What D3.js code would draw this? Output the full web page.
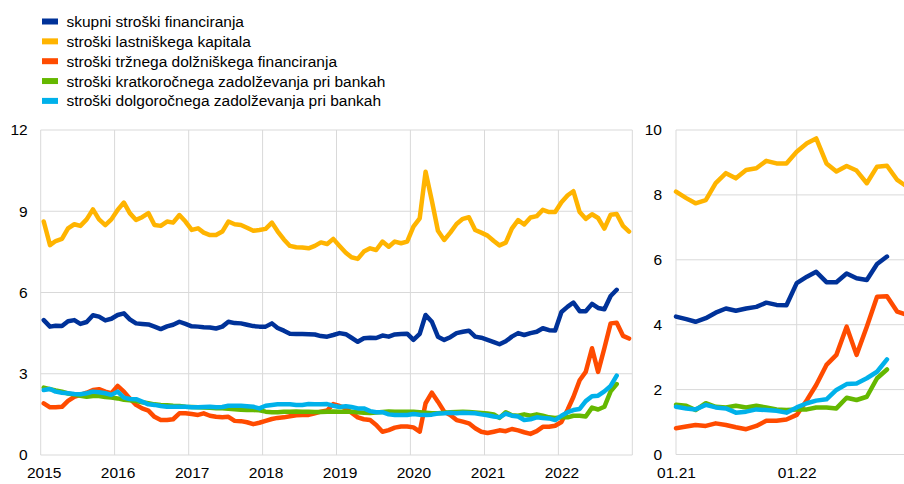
<!DOCTYPE html>
<html>
<head>
<meta charset="utf-8">
<script src="https://cdn.jsdelivr.net/npm/d3@7"></script>
<style>
body { margin: 0; background: #fff; }
svg text { font-family: "Liberation Sans", Arial, sans-serif; }
</style>
</head>
<body>
<svg id="chart" width="904" height="484"></svg>
<script>
// legend labels and colours
var names = ["skupni stroški financiranja", "stroški lastniškega kapitala", "stroški tržnega dolžniškega financiranja",
             "stroški kratkoročnega zadolževanja pri bankah", "stroški dolgoročnega zadolževanja pri bankah"];
var colors = ["#003299", "#ffb400", "#ff4b00", "#65b800", "#00b1ea"];

// monthly values, Jan 2015 onwards
var skupni = [4.98, 4.74, 4.77, 4.76, 4.94, 4.98, 4.84, 4.91, 5.16, 5.11, 4.97, 5.03,
  5.17, 5.23, 5.01, 4.86, 4.84, 4.82, 4.74, 4.65, 4.75, 4.81, 4.92, 4.84,
  4.75, 4.74, 4.72, 4.71, 4.67, 4.74, 4.92, 4.87, 4.86, 4.81, 4.76, 4.74,
  4.74, 4.86, 4.69, 4.59, 4.48, 4.47, 4.47, 4.46, 4.45, 4.39, 4.37, 4.43,
  4.5, 4.46, 4.33, 4.18, 4.31, 4.33, 4.32, 4.41, 4.37, 4.45, 4.47, 4.48,
  4.25, 4.47, 5.17, 4.92, 4.37, 4.25, 4.35, 4.5, 4.55, 4.59, 4.37, 4.33,
  4.25, 4.17, 4.09, 4.2, 4.37, 4.5, 4.43, 4.5, 4.55, 4.68, 4.61, 4.6,
  5.28, 5.48, 5.63, 5.31, 5.31, 5.58, 5.43, 5.38, 5.87, 6.1];
var lastniski = [8.62, 7.75, 7.9, 7.98, 8.37, 8.52, 8.46, 8.7, 9.07, 8.7, 8.49, 8.7,
  9.05, 9.32, 8.93, 8.68, 8.78, 8.93, 8.49, 8.46, 8.62, 8.58, 8.86, 8.62,
  8.31, 8.37, 8.21, 8.12, 8.12, 8.25, 8.62, 8.52, 8.49, 8.39, 8.28, 8.31,
  8.35, 8.58, 8.26, 7.96, 7.72, 7.67, 7.66, 7.63, 7.72, 7.85, 7.79, 7.98,
  7.72, 7.47, 7.3, 7.24, 7.51, 7.63, 7.57, 7.88, 7.69, 7.88, 7.82, 7.88,
  8.43, 8.74, 10.46, 9.39, 8.28, 7.94, 8.21, 8.53, 8.72, 8.78, 8.31, 8.21,
  8.1, 7.9, 7.74, 7.84, 8.36, 8.67, 8.51, 8.77, 8.82, 9.05, 8.97, 8.97,
  9.33, 9.59, 9.74, 8.97, 8.72, 8.89, 8.75, 8.36, 8.87, 8.9, 8.46, 8.25];
var trzni = [1.91, 1.76, 1.76, 1.78, 2.0, 2.15, 2.22, 2.3, 2.4, 2.43, 2.34, 2.28,
  2.55, 2.34, 2.09, 1.85, 1.72, 1.64, 1.41, 1.29, 1.29, 1.32, 1.54, 1.54,
  1.51, 1.48, 1.54, 1.45, 1.41, 1.39, 1.41, 1.26, 1.25, 1.21, 1.14, 1.19,
  1.26, 1.33, 1.37, 1.39, 1.43, 1.47, 1.48, 1.48, 1.54, 1.6, 1.64, 1.88,
  1.81, 1.72, 1.56, 1.39, 1.32, 1.29, 1.11, 0.86, 0.92, 1.01, 1.05, 1.05,
  1.02, 0.86, 1.91, 2.3, 1.97, 1.6, 1.48, 1.29, 1.23, 1.17, 0.99, 0.86,
  0.81, 0.86, 0.91, 0.88, 0.96, 0.91, 0.84, 0.78, 0.88, 1.04, 1.04, 1.08,
  1.22, 1.68, 2.14, 2.76, 3.07, 3.94, 3.07, 3.94, 4.86, 4.88, 4.4, 4.3];
var kratkorocni = [2.49, 2.43, 2.38, 2.34, 2.27, 2.23, 2.19, 2.15, 2.18, 2.18, 2.14, 2.12,
  2.09, 2.04, 2.02, 1.99, 1.95, 1.91, 1.87, 1.85, 1.84, 1.82, 1.81, 1.78,
  1.77, 1.76, 1.75, 1.74, 1.73, 1.73, 1.71, 1.69, 1.67, 1.66, 1.66, 1.65,
  1.6, 1.58, 1.58, 1.6, 1.6, 1.61, 1.6, 1.6, 1.59, 1.59, 1.6, 1.61,
  1.6, 1.6, 1.6, 1.58, 1.56, 1.55, 1.57, 1.59, 1.61, 1.6, 1.6, 1.6,
  1.6, 1.58, 1.56, 1.54, 1.54, 1.56, 1.58, 1.59, 1.6, 1.59, 1.57, 1.55,
  1.53, 1.5, 1.37, 1.58, 1.47, 1.45, 1.5, 1.45, 1.5, 1.45, 1.39, 1.37,
  1.39, 1.39, 1.45, 1.45, 1.42, 1.75, 1.68, 1.78, 2.35, 2.62];
var dolgorocni = [2.4, 2.44, 2.34, 2.3, 2.28, 2.25, 2.24, 2.28, 2.34, 2.32, 2.28, 2.22,
  2.34, 2.12, 2.07, 2.06, 1.97, 1.87, 1.85, 1.81, 1.78, 1.78, 1.78, 1.78,
  1.76, 1.76, 1.77, 1.78, 1.76, 1.77, 1.82, 1.82, 1.82, 1.8, 1.78, 1.72,
  1.82, 1.85, 1.87, 1.87, 1.87, 1.85, 1.85, 1.88, 1.87, 1.87, 1.88, 1.82,
  1.77, 1.8, 1.77, 1.72, 1.72, 1.62, 1.58, 1.58, 1.5, 1.48, 1.48, 1.48,
  1.51, 1.49, 1.48, 1.49, 1.53, 1.54, 1.56, 1.54, 1.56, 1.55, 1.54, 1.5,
  1.47, 1.42, 1.39, 1.53, 1.45, 1.42, 1.29, 1.32, 1.39, 1.37, 1.35, 1.29,
  1.45, 1.58, 1.66, 1.7, 1.99, 2.17, 2.19, 2.35, 2.55, 2.93];

var leftYTicks = [0, 3, 6, 9, 12];
var rightYTicks = [0, 2, 4, 6, 8, 10];
var leftYears = [2015, 2016, 2017, 2018, 2019, 2020, 2021, 2022];
var rightTickLabels = ["01.21", "01.22"];

var series = [skupni, lastniski, trzni, kratkorocni, dolgorocni];
var months = d3.timeMonth.range(new Date(2015, 0, 1), new Date(2023, 0, 1));
var zoomStart = 72; // Jan 2021

var svg = d3.select("#chart");
var grid = "#d9d9d9";
var fontSize = "15.5px";

// ---- left panel
var xL = d3.scaleTime().domain([new Date(2015, 0, 1), new Date(2023, 0, 1)]).range([40.7, 632.3]);
var yL = d3.scaleLinear().domain([0, 12]).range([455, 130]);

var gL = svg.append("g");
leftYTicks.forEach(function(t) {
  gL.append("line").attr("x1", xL.range()[0]).attr("x2", xL.range()[1])
    .attr("y1", yL(t)).attr("y2", yL(t)).style("stroke", grid).style("stroke-width", 1);
});
leftYears.forEach(function(yr) {
  var x = xL(new Date(yr, 0, 1));
  gL.append("line").attr("x1", x).attr("x2", x).attr("y1", yL(12)).attr("y2", yL(0))
    .style("stroke", grid).style("stroke-width", 1);
});
gL.append("line").attr("x1", xL.range()[1]).attr("x2", xL.range()[1]).attr("y1", yL(12)).attr("y2", yL(0))
  .style("stroke", grid).style("stroke-width", 1);

var axL = gL.append("g").attr("transform", "translate(" + xL.range()[0] + ",0)")
  .call(d3.axisLeft(yL).tickValues(leftYTicks).tickSize(0).tickPadding(13));
var axB = gL.append("g").attr("transform", "translate(0," + yL(0) + ")")
  .call(d3.axisBottom(xL).tickValues(leftYears.map(function(y) { return new Date(y, 0, 1); }))
    .tickFormat(d3.timeFormat("%Y")).tickSize(0).tickPadding(12));
axB.selectAll("text").attr("dx", 3);

var lineL = d3.line()
  .x(function(d, i) { return xL(d3.timeDay.offset(months[i], 15)); })
  .y(function(d) { return yL(d); });
series.forEach(function(s, k) {
  gL.append("path").attr("d", lineL(s)).style("fill", "none").style("stroke", colors[k])
    .style("stroke-width", 4.5).style("stroke-linejoin", "round").style("stroke-linecap", "round");
});

// ---- right panel (zoom from Jan 2021)
var xR = d3.scaleTime().domain([new Date(2021, 0, 1), new Date(2022, 0, 1)]).range([676, 796.7]);
var yR = d3.scaleLinear().domain([0, 10]).range([454.5, 130]);

var gR = svg.append("g");
rightYTicks.forEach(function(t) {
  gR.append("line").attr("x1", 676).attr("x2", 904).attr("y1", yR(t)).attr("y2", yR(t))
    .style("stroke", grid).style("stroke-width", 1);
});
[new Date(2021, 0, 1), new Date(2022, 0, 1)].forEach(function(d) {
  gR.append("line").attr("x1", xR(d)).attr("x2", xR(d)).attr("y1", yR(10)).attr("y2", yR(0))
    .style("stroke", grid).style("stroke-width", 1);
});

gR.append("g").attr("transform", "translate(676,0)")
  .call(d3.axisLeft(yR).tickValues(rightYTicks).tickSize(0).tickPadding(14));
gR.append("g").attr("transform", "translate(0," + yR(0) + ")")
  .call(d3.axisBottom(xR).tickValues([new Date(2021, 0, 1), new Date(2022, 0, 1)])
    .tickFormat(function(d, i) { return rightTickLabels[i]; }).tickSize(0).tickPadding(12));

var lineR = d3.line()
  .x(function(d, i) { return xR(months[zoomStart + i]); })
  .y(function(d) { return yR(d); });
series.forEach(function(s, k) {
  gR.append("path").attr("d", lineR(s.slice(zoomStart))).style("fill", "none").style("stroke", colors[k])
    .style("stroke-width", 4.5).style("stroke-linejoin", "round").style("stroke-linecap", "round");
});

svg.selectAll(".domain").remove();
svg.selectAll(".tick text").style("font-size", fontSize).style("fill", "#000")
  .style("font-family", "'Liberation Sans', Arial, sans-serif");

// ---- legend
names.forEach(function(n, k) {
  var cy = 21.5 + k * 19.85;
  svg.append("rect").attr("x", 42).attr("y", cy - 3).attr("width", 16).attr("height", 6).style("fill", colors[k]);
  svg.append("text").attr("x", 66.5).attr("y", cy + 5.5).text(n)
    .style("font-size", fontSize).style("fill", "#000");
});
</script>
</body>
</html>
